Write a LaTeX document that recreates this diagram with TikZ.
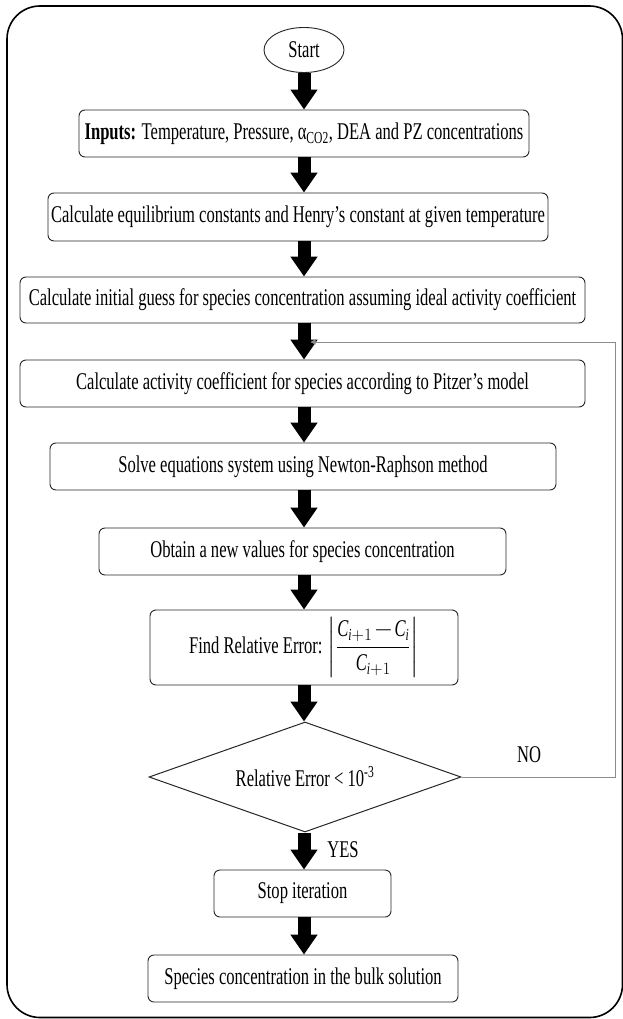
\documentclass[tikz,border=0pt]{standalone}
\usepackage{amsmath}
\usepackage{fontspec}
\setmainfont[FakeStretch=0.69]{Liberation Serif}
\usetikzlibrary{shapes.geometric,arrows.meta}
\begin{document}
\begin{tikzpicture}[x=1pt,y=-1pt,
  txt/.style={font=\fontsize{24}{26}\selectfont},
  box/.style={txt,draw=black!85,line width=0.9pt,rounded corners=6pt,inner sep=0pt,minimum height=47pt},
  blk/.style={line width=13pt,black,-{Triangle[length=20pt,width=26pt]}},
  fbline/.style={draw=black!45,line width=0.9pt,-{Triangle[length=5pt,width=5pt]}}]
\useasboundingbox (0,0) rectangle (622,1019);
\draw[line width=1.6pt,rounded corners=33pt] (7,6) rectangle (622.5,1017.5);
\node[txt,draw=black!85,line width=0.9pt,ellipse,inner sep=0pt,minimum width=80pt,minimum height=45pt] (start) at (304,50) {Start};
\node[box,minimum width=450pt] (inp) at (304,133.5) {\textbf{Inputs:} Temperature, Pressure, α\textsubscript{CO2}, DEA and PZ concentrations};
\node[box,minimum width=500pt,minimum height=48pt] (eq) at (298,217) {Calculate equilibrium constants and Henry’s constant at given temperature};
\node[box,minimum width=565pt,minimum height=46pt] (ig) at (302.5,300) {Calculate initial guess for species concentration assuming ideal activity coefficient};
\node[box,minimum width=565pt] (pz) at (302.5,383.5) {Calculate activity coefficient for species according to Pitzer’s model};
\node[box,minimum width=506pt] (nr) at (303,466.5) {Solve equations system using Newton-Raphson method};
\node[box,minimum width=407pt] (ob) at (302.5,551.5) {Obtain a new values for species concentration};
\node[box,minimum width=308pt,minimum height=75pt] (fe) at (304,647.5) {Find Relative Error: $\left|\dfrac{\textit{C}_{\textit{i}+1}\!-\!\textit{C}_{\textit{i}}}{\textit{C}_{\textit{i}+1}}\right|$};
\node[txt,draw=black!85,line width=1pt,diamond,aspect=2.84,inner sep=0pt,minimum width=312pt,minimum height=110pt] (dia) at (305,777) {Relative Error < 10\textsuperscript{-3}};
\node[box,minimum width=177pt] (st) at (302.5,893.5) {Stop iteration};
\node[box,minimum width=310pt] (bk) at (303,978.5) {Species concentration in the bulk solution};
\node[txt] (no) at (529,755) {NO};
\node[txt] (yes) at (343,850) {YES};
\coordinate (fb) at (310.5,342);
\draw[blk] (start.south) -- (start.south |- inp.north);
\draw[blk] (inp.south) -- (inp.south |- eq.north);
\draw[blk] (inp.south |- eq.south) -- (inp.south |- ig.north);
\draw[blk] (inp.south |- ig.south) -- (inp.south |- pz.north);
\draw[blk] (inp.south |- pz.south) -- (inp.south |- nr.north);
\draw[blk] (inp.south |- nr.south) -- (inp.south |- ob.north);
\draw[blk] (inp.south |- ob.south) -- (inp.south |- fe.north);
\draw[blk] (inp.south |- fe.south) -- (inp.south |- dia.north);
\draw[blk] (inp.south |- dia.south) -- (inp.south |- st.north);
\draw[blk] (inp.south |- st.south) -- (inp.south |- bk.north);
\draw[fbline] (dia.east) -- ++(154,0) |- (fb);
\end{tikzpicture}
\end{document}
